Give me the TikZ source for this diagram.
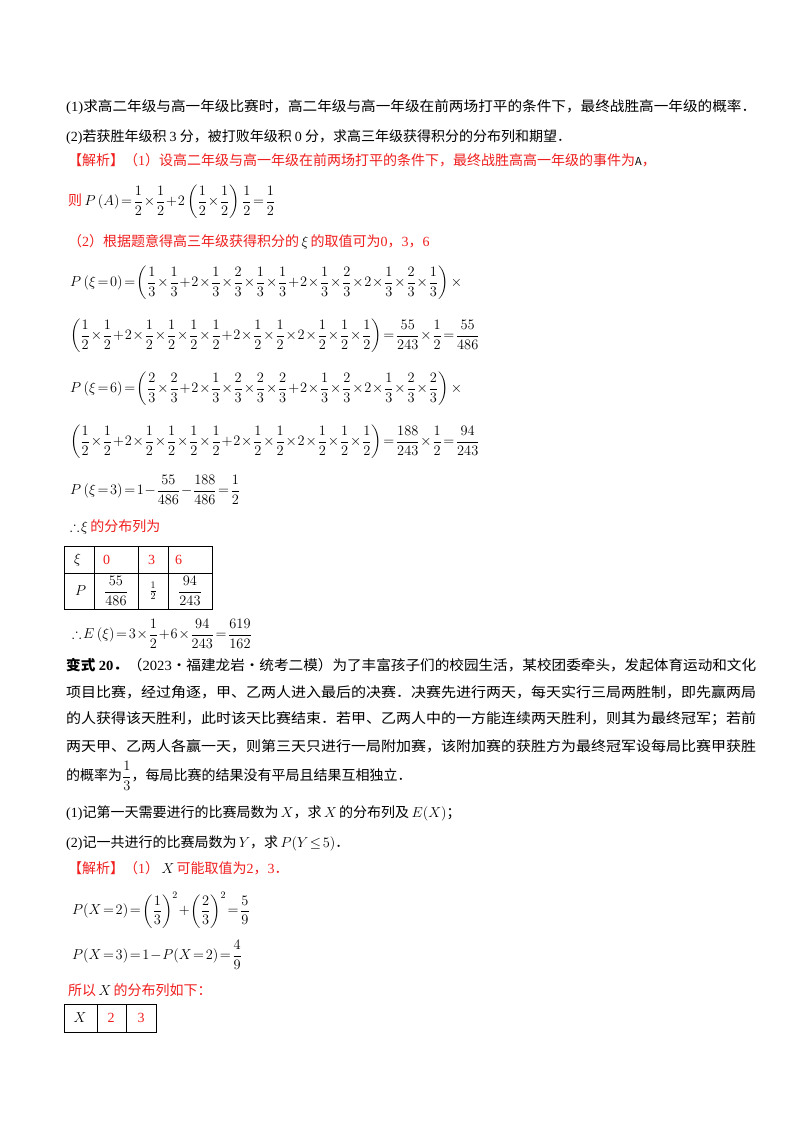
\documentclass[tikz,border=0pt]{standalone}
\usepackage{amsmath,amssymb}
\usepackage{graphicx}
\usepackage{fontspec}
\setmainfont{Noto Sans CJK SC}
\newfontfamily\tnr{Liberation Serif}
\definecolor{jr}{RGB}{240,30,30}
\newcommand{\tn}[1]{{\tnr #1}}
\newcommand{\dq}[2]{\dfrac{#1}{#2}}
\newcommand{\fw}[1]{\resizebox{690pt}{\height}{#1}}
\medmuskip=1mu plus 1mu
\thickmuskip=2mu plus 1mu
\begin{document}
\begin{tikzpicture}[x=1pt,y=-1pt,
  every node/.style={inner sep=0pt, anchor=west, font=\fontsize{14}{17}\selectfont},
  red/.style={text=jr},
  cell/.style={draw=black, line width=0.9pt}]
\useasboundingbox[fill=white] (0,0) rectangle (800,1132);
\node (l1) at (66,107) {\fw{\tn{(1)}求高二年级与高一年级比赛时，高二年级与高一年级在前两场打平的条件下，最终战胜高一年级的概率．}};
\node (l2) at (66,137) {\tn{(2)}若获胜年级积 \tn{3} 分，被打败年级积 \tn{0} 分，求高三年级获得积分的分布列和期望．};
\node[red] (l3) at (68,160) {【解析】（\tn{1}）设高二年级与高一年级在前两场打平的条件下，最终战胜高高一年级的事件为{\color{black}\fontsize{11}{13}\selectfont A}，};
\node (l4) at (68,202) {{\color{jr}则}\,$P\left(A\right)=\dq12\times\dq12+2\left(\dq12\times\dq12\right)\dq12=\dq12$};
\node[red] (l5) at (68,242) {（\tn{2}）根据题意得高三年级获得积分的\,{\color{black}$\xi$}\,的取值可为\tn{0}，\tn{3}，\tn{6}};
\node (l6) at (70,283) {$P\left(\xi=0\right)=\left(\dq13\times\dq13+2\times\dq13\times\dq23\times\dq13\times\dq13+2\times\dq13\times\dq23\times2\times\dq13\times\dq23\times\dq13\right)\times$};
\node (l7) at (70,336) {$\left(\dq12\times\dq12+2\times\dq12\times\dq12\times\dq12\times\dq12+2\times\dq12\times\dq12\times2\times\dq12\times\dq12\times\dq12\right)=\dq{55}{243}\times\dq12=\dq{55}{486}$};
\node (l8) at (70,389) {$P\left(\xi=6\right)=\left(\dq23\times\dq23+2\times\dq13\times\dq23\times\dq23\times\dq23+2\times\dq13\times\dq23\times2\times\dq13\times\dq23\times\dq23\right)\times$};
\node (l9) at (70,442) {$\left(\dq12\times\dq12+2\times\dq12\times\dq12\times\dq12\times\dq12+2\times\dq12\times\dq12\times2\times\dq12\times\dq12\times\dq12\right)=\dq{188}{243}\times\dq12=\dq{94}{243}$};
\node (l10) at (70,490) {$P\left(\xi=3\right)=1-\dq{55}{486}-\dq{188}{486}=\dq12$};
\node (l11) at (70,527) {$\therefore\xi$\,{\color{jr}的分布列为}};
% table 1
\draw[cell] (64,546) rectangle (212,609);
\draw[cell] (64,573) -- (212,573);
\draw[cell] (94,546) -- (94,609) (138,546) -- (138,609) (168,546) -- (168,609);
\node (t11) at (74,560) {$\xi$};
\node[red] (t12) at (103,560) {\tn{0}};
\node[red] (t13) at (148,560) {\tn{3}};
\node[red] (t14) at (175,560) {\tn{6}};
\node (t21) at (75,591) {$P$};
\node[anchor=center] (t22) at (116,591) {$\dq{55}{486}$};
\node[anchor=center] (t23) at (153,591) {$\frac12$};
\node[anchor=center] (t24) at (190,591) {$\dq{94}{243}$};
\node (l12) at (72,634) {$\therefore E\left(\xi\right)=3\times\dq12+6\times\dq{94}{243}=\dq{619}{162}$};
% variant 20
\node (v1) at (66,665) {\fw{\textbf{变式 \tn{\textbf{20}}．}（\tn{2023}·福建龙岩·统考二模）为了丰富孩子们的校园生活，某校团委牵头，发起体育运动和文化}};
\node (v2) at (66,692) {\fw{项目比赛，经过角逐，甲、乙两人进入最后的决赛．决赛先进行两天，每天实行三局两胜制，即先赢两局}};
\node (v3) at (66,719) {\fw{的人获得该天胜利，此时该天比赛结束．若甲、乙两人中的一方能连续两天胜利，则其为最终冠军；若前}};
\node (v4) at (66,746) {\fw{两天甲、乙两人各赢一天，则第三天只进行一局附加赛，该附加赛的获胜方为最终冠军设每局比赛甲获胜}};
\node (v5) at (66,776) {的概率为$\dq13$，每局比赛的结果没有平局且结果互相独立．};
\node (q1) at (66,813) {\tn{(1)}记第一天需要进行的比赛局数为\,$X$，求\,$X$\,的分布列及\,$E(X)$；};
\node (q2) at (66,843) {\tn{(2)}记一共进行的比赛局数为\,$Y$，求\,$P(Y\le 5)$．};
\node[red] (s1) at (68,868) {【解析】（\tn{1}）\,{\color{black}$X$}\,可能取值为\tn{2}，\tn{3}．};
\node (s2) at (72,910) {$P(X=2)=\left(\dq13\right)^2+\left(\dq23\right)^2=\dq59$};
\node (s3) at (72,955) {$P(X=3)=1-P(X=2)=\dq49$};
\node[red] (s4) at (68,990) {所以\,{\color{black}$X$}\,的分布列如下：};
% table 2
\draw[cell] (64,1004) rectangle (156,1032);
\draw[cell] (97,1004) -- (97,1032) (126,1004) -- (126,1032);
\node[anchor=center] (u1) at (80,1018) {$X$};
\node[anchor=center,red] (u2) at (111,1018) {\tn{2}};
\node[anchor=center,red] (u3) at (141,1018) {\tn{3}};
\end{tikzpicture}
\end{document}
